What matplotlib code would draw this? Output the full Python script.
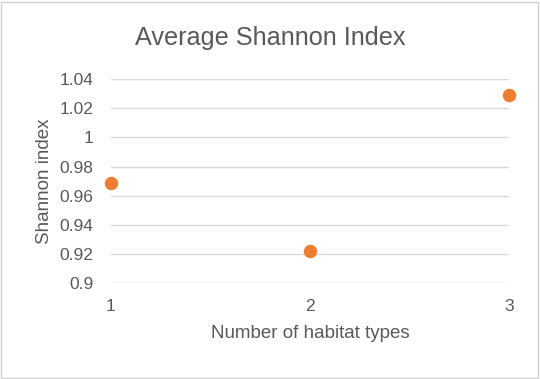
import matplotlib
matplotlib.use("Agg")
import matplotlib.pyplot as plt
from matplotlib.patches import Rectangle

# datos
habitat_types = [1, 2, 3]
shannon_index = [0.969, 0.922, 1.029]
y_ticks = [0.9, 0.92, 0.94, 0.96, 0.98, 1.0, 1.02, 1.04]
y_tick_labels = ["0.9", "0.92", "0.94", "0.96", "0.98", "1", "1.02", "1.04"]

gris_texto = "#595959"
naranja = "#ED7D31"

plt.rcParams['font.family'] = ['Liberation Sans', 'DejaVu Sans']

fig = plt.figure(figsize=(5.4, 3.79), dpi=100)
ax = fig.add_axes([0.205, 0.2525, 0.7376, 0.539])

ax.scatter(habitat_types, shannon_index, s=75, color=naranja, zorder=3, clip_on=False)

ax.set_xlim(1, 3)
ax.set_ylim(0.9, 1.04)
ax.set_xticks(habitat_types)
ax.set_xticklabels([str(h) for h in habitat_types])
ax.set_yticks(y_ticks)
ax.set_yticklabels(y_tick_labels)
ax.tick_params(axis='both', length=0, labelsize=12.5, colors=gris_texto)
ax.tick_params(axis='y', pad=12.5)
ax.tick_params(axis='x', pad=11.5)

ax.grid(axis='y', color="#d9d9d9", linewidth=1)
ax.set_axisbelow(True)
for s in ax.spines.values():
    s.set_visible(False)

fig.text(0.5, 0.9, "Average Shannon Index", ha='center', va='center',
         fontsize=18.2, color=gris_texto)
ax.set_xlabel("Number of habitat types", fontsize=13.5, color=gris_texto, labelpad=8)
ax.set_ylabel("Shannon index", fontsize=13.5, color=gris_texto, labelpad=5)

# borde del grafico
fig.patches.append(Rectangle((0.002, 0.003), 0.995, 0.993, transform=fig.transFigure,
                             fill=False, edgecolor="#d0d0d0", linewidth=1))

fig.savefig("out.png", dpi=100)
